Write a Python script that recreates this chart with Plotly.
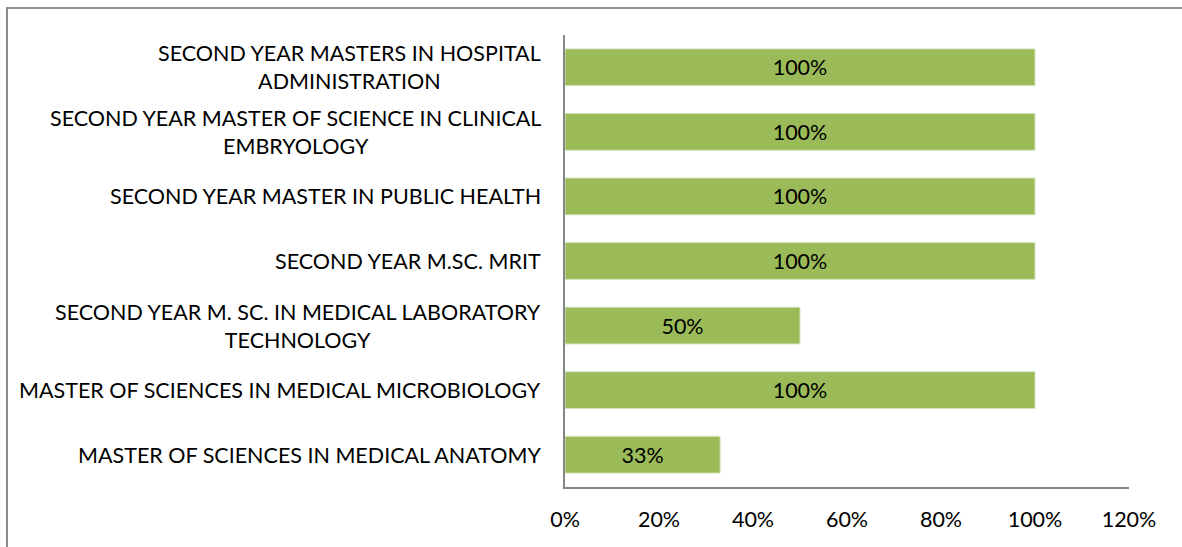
import plotly.graph_objects as go

# Programmes, listed bottom to top as they appear on the y axis
programmes = [
    "MASTER OF SCIENCES IN MEDICAL ANATOMY",
    "MASTER OF SCIENCES IN MEDICAL MICROBIOLOGY",
    "SECOND YEAR M. SC. IN MEDICAL LABORATORY<br>TECHNOLOGY",
    "SECOND YEAR M.SC. MRIT",
    "SECOND YEAR MASTER IN PUBLIC HEALTH",
    "SECOND YEAR MASTER OF SCIENCE IN CLINICAL<br>EMBRYOLOGY",
    "SECOND YEAR MASTERS IN HOSPITAL<br>ADMINISTRATION",
]
share = [0.33, 1.00, 0.50, 1.00, 1.00, 1.00, 1.00]
x_ticks = [0, 0.2, 0.4, 0.6, 0.8, 1.0, 1.2]
x_tick_text = ["0%", "20%", "40%", "60%", "80%", "100%", "120%"]

W, H = 1182, 547
L, R, T, B = 565, 53, 35, 60
FONT = "Lato, Open Sans, sans-serif"
FS = 21.5

fig = go.Figure(
    go.Bar(
        y=programmes,
        x=share,
        orientation="h",
        marker=dict(color="#9BBB59", line=dict(color="#D7E4BD", width=1)),
        text=[f"{v:.0%}" for v in share],
        textposition="inside",
        insidetextanchor="middle",
        textfont=dict(family=FONT, size=FS, color="#000000"),
        cliponaxis=False,
    )
)

# category labels as centred multi-line text to the left of the axis
for name in programmes:
    fig.add_annotation(
        x=0, xref="paper", y=name, yref="y",
        text=name, showarrow=False,
        xanchor="right", yanchor="middle", align="center",
        xshift=-22,
        font=dict(family=FONT, size=FS, color="#000000"),
    )

pw, ph = W - L - R, H - T - B
# light grey frame around the whole chart
fig.add_shape(
    type="rect", xref="paper", yref="paper",
    x0=(7 - L) / pw, x1=(W + 20 - L) / pw,
    y0=-(H + 20 - T - ph) / ph, y1=(ph + T - 8) / ph,
    line=dict(color="#8C8C8C", width=2), layer="below",
)

fig.update_layout(
    width=W, height=H,
    margin=dict(l=L, r=R, t=T, b=B),
    paper_bgcolor="white", plot_bgcolor="white",
    bargap=0.43,
    showlegend=False,
    font=dict(family=FONT, size=FS, color="#000000"),
    uniformtext=dict(mode=False),
)
fig.update_xaxes(
    range=[0, 1.2], tickvals=x_ticks, ticktext=x_tick_text,
    showgrid=False, zeroline=False,
    showline=True, linecolor="#868686", linewidth=2,
    ticks="outside", ticklen=12, tickcolor="rgba(0,0,0,0)",
    tickfont=dict(family=FONT, size=FS),
)
fig.update_yaxes(
    showgrid=False, zeroline=False, showticklabels=False,
    showline=True, linecolor="#868686", linewidth=2,
)

fig.write_html("out.html")
